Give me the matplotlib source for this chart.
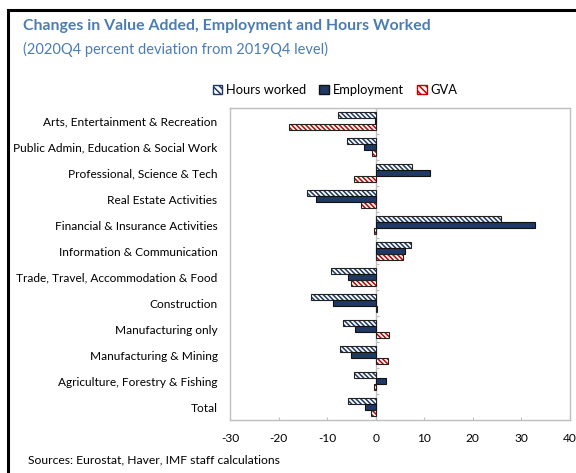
import numpy as np
import matplotlib as mpl
import matplotlib.pyplot as plt
from matplotlib.patches import Rectangle, Patch

plt.rcParams['font.family'] = ['Lato', 'DejaVu Sans']
plt.rcParams['hatch.linewidth'] = 1.1
plt.rcParams['axes.unicode_minus'] = False

# data (percent deviation, 2020Q4 vs 2019Q4)
sectors = ['Arts, Entertainment & Recreation',
           'Public Admin, Education & Social Work',
           'Professional, Science & Tech',
           'Real Estate Activities',
           'Financial & Insurance Activities',
           'Information & Communication',
           'Trade, Travel, Accommodation & Food',
           'Construction',
           'Manufacturing only',
           'Manufacturing & Mining',
           'Agriculture, Forestry & Fishing',
           'Total']
hours_worked = [-7.8, -5.9, 7.4, -14.1, 25.7, 7.3, -9.2, -13.3, -6.7, -7.3, -4.4, -5.8]
employment = [-0.2, -2.4, 11.2, -12.2, 32.8, 6.0, -5.7, -8.7, -4.2, -5.0, 2.2, -2.2]
gva = [-17.8, -0.8, -4.5, -3.0, -0.4, 5.7, -5.0, 0.3, 2.8, 2.6, -0.4, -0.9]

navy = '#1f3864'
red = '#c00000'
title_col = '#4a7db3'
grey = '#bfbfbf'

fig = plt.figure(figsize=(5.76, 4.73), dpi=100)
ax = fig.add_axes([230/576, 1-420/473, 340/576, 312/473])

y = np.arange(len(sectors))
h = 0.22
off = 0.235
hatch = '\\' * 7

# hours worked: white with navy hatch
ax.barh(y - off, hours_worked, h, color='white', edgecolor=navy, hatch=hatch, linewidth=0, zorder=2)
ax.barh(y - off, hours_worked, h, fill=False, edgecolor='#222222', linewidth=0.8, zorder=3)
# employment: solid navy
ax.barh(y, employment, h, color=navy, edgecolor='#111111', linewidth=0.8, zorder=3)
# gva: white with red hatch
ax.barh(y + off, gva, h, color='white', edgecolor=red, hatch=hatch, linewidth=0, zorder=2)
ax.barh(y + off, gva, h, fill=False, edgecolor='#222222', linewidth=0.8, zorder=3)

ax.set_xlim(-30, 40)
ax.set_ylim(len(sectors) - 0.5, -0.5)
ax.set_xticks(range(-30, 41, 10))
ax.set_yticks(y)
ax.set_yticklabels(sectors)
ax.tick_params(axis='y', length=0, labelsize=8.6, pad=9)
ax.tick_params(axis='x', direction='in', length=2, color=grey, labelsize=8.6, pad=9)
for s in ax.spines.values():
    s.set_color(grey)
    s.set_linewidth(1)

# zero axis with ticks between categories
ax.axvline(0, color=grey, linewidth=1, zorder=1)
sec = ax.secondary_yaxis(30/70)
sec.set_yticks(np.arange(-0.5, len(sectors), 1))
sec.tick_params(direction='in', length=2, color=grey, labelleft=False, labelright=False)
sec.spines['left'].set_visible(False)
sec.spines['right'].set_visible(False)

handles = [Patch(facecolor='white', edgecolor=navy, hatch='\\' * 5, label='Hours worked'),
           Patch(facecolor=navy, edgecolor='#111111', label='Employment'),
           Patch(facecolor='white', edgecolor=red, hatch='\\' * 5, label='GVA')]
fig.legend(handles=handles, loc='center', bbox_to_anchor=(335/576, 1-90/473), ncol=3,
           frameon=False, fontsize=9.3, handlelength=0.75, handleheight=0.75,
           handletextpad=0.3, columnspacing=1.0)

fig.text(23/576, 1-26/473, 'Changes in Value Added, Employment and Hours Worked',
         color=title_col, fontsize=11.45, fontweight='bold', va='center')
fig.text(23/576, 1-49/473, '(2020Q4 percent deviation from 2019Q4 level)',
         color=title_col, fontsize=10.5, va='center')
fig.text(28/576, 1-460/473, 'Sources: Eurostat, Haver, IMF staff calculations',
         fontsize=8.7, va='center')

fig.patches.append(Rectangle((8/576, -0.1), 1.2, 1.1 - 10/473, transform=fig.transFigure,
                             fill=False, edgecolor='black', linewidth=2.2))

fig.savefig('out.png', dpi=100)
